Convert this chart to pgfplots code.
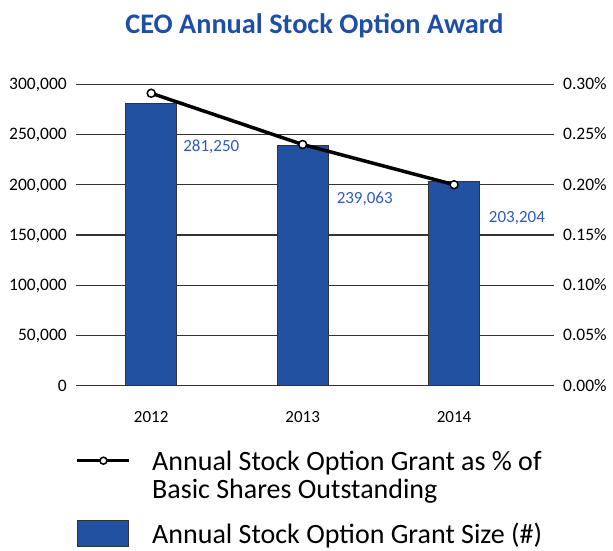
\documentclass[border=0pt]{standalone}
\usepackage{fontspec}
\setmainfont{Carlito}
\usepackage{pgfplots}
\pgfplotsset{compat=1.18}
\definecolor{barblue}{HTML}{2151A0}
\definecolor{titleblue}{HTML}{1F4FA5}
\definecolor{lblblue}{HTML}{2E5DB5}
\definecolor{gridgray}{HTML}{333333}
\begin{document}
\begin{tikzpicture}
\path[use as bounding box] (0pt,0pt) rectangle (613pt,550pt);
\node[anchor=base, font=\fontsize{28.3}{28}\selectfont\bfseries, text=titleblue, inner sep=0pt] at (314.5pt,516pt) {CEO Annual Stock Option Award};
\pgfplotsset{
  common/.style={
    at={(75.5pt,164.3pt)}, anchor=south west,
    scale only axis, width=478.5pt, height=301.5pt,
    xmin=-0.5, xmax=2.66, ymin=0,
    /pgf/number format/assume math mode=true,
    axis line style={draw=none},
    major tick length=0pt,
    clip=false,
    scaled y ticks=false,
  }
}
\begin{axis}[common, ymax=300000,
  axis y line*=left, axis x line*=bottom,
  xtick={0,1,2}, xticklabels={2012,2013,2014},
  xticklabel style={font=\fontsize{17}{17}\selectfont, anchor=base, yshift=-37pt, inner sep=0pt},
  ytick={0,50000,100000,150000,200000,250000,300000},
  yticklabel style={font=\fontsize{17.5}{17.5}\selectfont, anchor=base east, inner sep=0pt, xshift=-8.5pt, yshift=-5.5pt, /pgf/number format/fixed, /pgf/number format/1000 sep={,}},
  ymajorgrids, grid style={gridgray, line width=1.4pt},
]
\addplot[ybar, bar width=51pt, fill=barblue, draw=gridgray, line width=0.9pt] coordinates {(0,281250) (1,239063) (2,203204)};
\node[anchor=base, text=lblblue, font=\fontsize{17}{17}\selectfont, inner sep=0pt] at (axis cs:0.397,232700) {281,250};
\node[anchor=base, text=lblblue, font=\fontsize{17}{17}\selectfont, inner sep=0pt] at (axis cs:1.41,181400) {239,063};
\node[anchor=base, text=lblblue, font=\fontsize{17}{17}\selectfont, inner sep=0pt] at (axis cs:2.415,162500) {203,204};
\end{axis}
\begin{axis}[common, ymax=0.30,
  axis y line*=right, axis x line=none,
  ytick={0,0.05,0.1,0.15,0.2,0.25,0.3},
  yticklabel={\pgfmathprintnumber[fixed, fixed zerofill, precision=2]{\tick}\%},
  yticklabel style={font=\fontsize{17.5}{17.5}\selectfont, anchor=base west, inner sep=0pt, xshift=9pt, yshift=-5.5pt},
  legend style={draw=none, fill=none, at={(axis description cs:0,-0.21)}, anchor=north west, legend cell align=left, font=\fontsize{28}{28}\selectfont, cells={align=left}, row sep=18pt, inner sep=0pt, /tikz/every odd column/.append style={column sep=19pt}},
]
\addplot[black, line width=3.5pt, mark=*, mark size=4pt, mark options={fill=white, draw=black, line width=1.5pt},
  legend image code/.code={\draw[black, line width=3.5pt] (0pt,15pt) -- (52pt,15pt); \draw[black, fill=white, line width=1.5pt] (26pt,15pt) circle (3.5pt);}]
  coordinates {(0,0.291) (1,0.240) (2,0.200)};
\addlegendentry{Annual Stock Option Grant as \% of\\Basic Shares Outstanding}
\addlegendimage{legend image code/.code={\draw[gridgray, fill=barblue, line width=0.9pt] (0pt,-13pt) rectangle (51pt,13pt);}}
\addlegendentry{Annual Stock Option Grant Size (\#)}
\end{axis}
\end{tikzpicture}
\end{document}
